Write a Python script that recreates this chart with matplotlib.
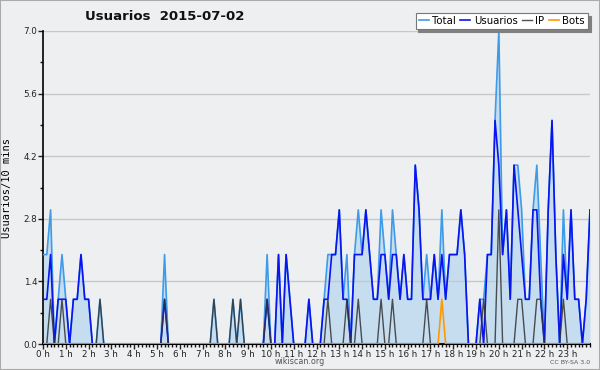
import numpy as np
import matplotlib
matplotlib.use("Agg")
import matplotlib.pyplot as plt
from matplotlib.ticker import MultipleLocator, FixedLocator, FixedFormatter
from matplotlib.patches import Rectangle

# valores cada 10 minutos (0 h .. 24 h)
usuarios = [1, 1, 2, 0, 1, 1, 1, 0, 1, 1, 2, 1, 1, 0, 0, 0, 0, 0, 0, 0,
            0, 0, 0, 0, 0, 0, 0, 0, 0, 0, 0, 0, 1, 0, 0, 0, 0, 0, 0, 0,
            0, 0, 0, 0, 0, 0, 0, 0, 0, 0, 0, 0, 0, 0, 0, 0, 0, 0, 0, 1,
            0, 0, 2, 0, 2, 1, 0, 0, 0, 0, 1, 0, 0, 0, 1, 1, 2, 2, 3, 1,
            1, 0, 2, 2, 2, 3, 2, 1, 1, 2, 2, 1, 2, 2, 1, 2, 1, 1, 4, 3,
            1, 1, 1, 2, 1, 2, 1, 2, 2, 2, 3, 2, 0, 0, 0, 1, 0, 2, 2, 5,
            4, 2, 3, 1, 4, 3, 2, 1, 1, 3, 3, 1, 0, 3, 5, 2, 0, 2, 1, 3,
            1, 1, 0, 1, 3]
ip = [0, 0, 1, 0, 0, 1, 0, 0, 0, 0, 0, 0, 0, 0, 0, 1, 0, 0, 0, 0,
      0, 0, 0, 0, 0, 0, 0, 0, 0, 0, 0, 0, 1, 0, 0, 0, 0, 0, 0, 0,
      0, 0, 0, 0, 0, 1, 0, 0, 0, 0, 1, 0, 1, 0, 0, 0, 0, 0, 0, 1,
      0, 0, 0, 0, 0, 0, 0, 0, 0, 0, 0, 0, 0, 0, 0, 1, 0, 0, 0, 0,
      1, 0, 0, 1, 0, 0, 0, 0, 0, 1, 0, 0, 1, 0, 0, 0, 0, 0, 0, 0,
      0, 1, 0, 0, 0, 0, 0, 0, 0, 0, 0, 0, 0, 0, 0, 0, 1, 0, 0, 0,
      3, 0, 0, 0, 0, 1, 1, 0, 0, 0, 1, 1, 0, 0, 0, 0, 0, 1, 0, 0,
      0, 0, 0, 0, 0]
bots = [0] * 105 + [1] + [0] * 39
total = [2, 2, 3, 0, 1, 2, 1, 0, 1, 1, 2, 1, 1, 0, 0, 1, 0, 0, 0, 0,
         0, 0, 0, 0, 0, 0, 0, 0, 0, 0, 0, 0, 2, 0, 0, 0, 0, 0, 0, 0,
         0, 0, 0, 0, 0, 1, 0, 0, 0, 0, 1, 0, 1, 0, 0, 0, 0, 0, 0, 2,
         0, 0, 2, 0, 2, 1, 0, 0, 0, 0, 1, 0, 0, 0, 1, 2, 2, 2, 3, 1,
         2, 0, 2, 3, 2, 3, 2, 1, 1, 3, 2, 1, 3, 2, 1, 2, 1, 1, 4, 3,
         1, 2, 1, 2, 1, 3, 1, 2, 2, 2, 3, 2, 0, 0, 0, 1, 1, 2, 2, 5,
         7, 2, 3, 1, 4, 4, 3, 1, 1, 3, 4, 2, 0, 3, 5, 2, 0, 3, 1, 3,
         1, 1, 0, 1, 3]

horas = [f"{h} h" for h in range(24)]
x = np.arange(len(total))

c_total = "#3d9be9"
c_usu = "#0a14f0"
c_ip = "#333333"
c_bots = "#ff9900"
fondo = "#eeeff1"

fig = plt.figure(figsize=(6, 3.7), dpi=100, facecolor=fondo)
ax = fig.add_axes([43 / 600, 1 - 344 / 370, 547 / 600, 313 / 370])
ax.set_facecolor(fondo)

ax.fill_between(x, total, 0, color="#c6dcef", lw=0, zorder=1)
ax.plot(x, total, color=c_total, lw=1.2, label="Total", zorder=3)
ax.plot(x, usuarios, color=c_usu, lw=1.2, label="Usuarios", zorder=4)
ax.plot(x, ip, color=c_ip, lw=1.0, label="IP", zorder=5, alpha=0.85)
ax.plot(x, bots, color=c_bots, lw=1.2, label="Bots", zorder=6)

ax.set_xlim(0, 144)
ax.set_ylim(0, 7.0)

ax.yaxis.set_major_locator(FixedLocator([0, 1.4, 2.8, 4.2, 5.6, 7.0]))
ax.yaxis.set_major_formatter(FixedFormatter(["0.0", "1.4", "2.8", "4.2", "5.6", "7.0"]))
ax.yaxis.set_minor_locator(MultipleLocator(0.7))
ax.xaxis.set_major_locator(FixedLocator(np.arange(24) * 6))
ax.xaxis.set_major_formatter(FixedFormatter(horas))
ax.xaxis.set_minor_locator(MultipleLocator(1))

ax.tick_params(axis="both", labelsize=6.3, colors="#222222", width=1, length=3.5, pad=0.5)
ax.tick_params(axis="both", which="minor", length=2.5, width=1, color="#111111")
ax.grid(axis="y", color="#c8c8c8", lw=1, zorder=0)

for s in ["top", "right"]:
    ax.spines[s].set_visible(False)
ax.spines["left"].set_linewidth(1.2)
ax.spines["bottom"].set_linewidth(1.5)

ax.set_ylabel("Usuarios/10 mins", family="DejaVu Sans Mono", fontsize=7.5, labelpad=8)

fig.text(85 / 600, 1 - 17 / 370, "Usuarios  2015-07-02", fontsize=9.5, fontweight="bold",
         ha="left", va="center", color="#111111")

leg = ax.legend(ncol=4, loc="upper right", bbox_to_anchor=(588 / 600, 1 - 13 / 370),
                bbox_transform=fig.transFigure, fontsize=7.3, frameon=True, fancybox=False,
                shadow={"color": "#808080", "alpha": 1}, handlelength=1.0, handletextpad=0.35,
                columnspacing=0.4, borderpad=0.3, borderaxespad=0)
leg.get_frame().set_edgecolor("#777777")
leg.get_frame().set_facecolor("white")
leg.get_frame().set_linewidth(0.8)
leg.set_zorder(10)

fig.text(300 / 600, 1 - 362 / 370, "wikiscan.org", fontsize=5.8, color="#555555",
         ha="center", va="center")
fig.text(590 / 600, 1 - 362 / 370, "CC BY-SA 3.0", fontsize=4.5, color="#555555",
         ha="right", va="center")

fig.patches.append(Rectangle((0, 0), 1, 1, transform=fig.transFigure, fill=False,
                             edgecolor="#aaaaaa", lw=1.5))

fig.savefig("out.png", dpi=100, facecolor=fondo)
